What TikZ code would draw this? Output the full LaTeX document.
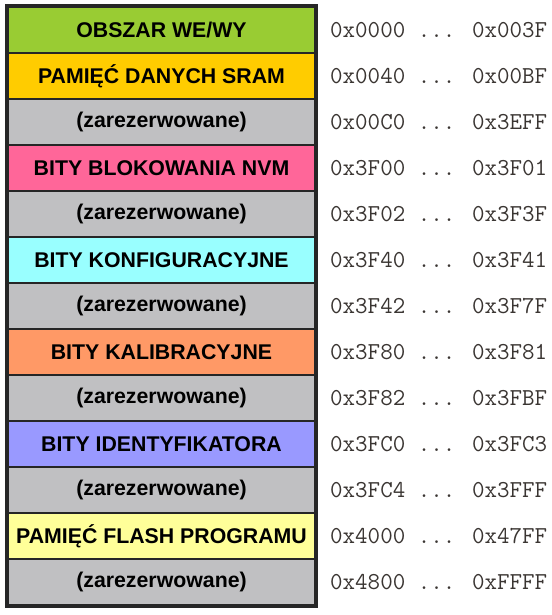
\documentclass[tikz,border=0pt]{standalone}
\usepackage{fontspec}
\setmainfont{Liberation Sans}
\newfontfamily\addrfont{Latin Modern Mono}
\usetikzlibrary{positioning}
\definecolor{ioarea}{HTML}{99CC33}
\definecolor{sramarea}{HTML}{FFCC00}
\definecolor{reserved}{HTML}{C0C0C2}
\definecolor{lockbits}{HTML}{FF6699}
\definecolor{fusebits}{HTML}{99FFFF}
\definecolor{calibbits}{HTML}{FF9966}
\definecolor{sigbits}{HTML}{9999FF}
\definecolor{flasharea}{HTML}{FFFF99}
\definecolor{addrtext}{HTML}{3A3532}
\definecolor{frameline}{HTML}{262626}

\begin{document}
\begin{tikzpicture}[
  x=1pt, y=1pt,
  region/.style={
    draw=frameline,
    line width=1.1pt,
    minimum width=307pt,
    minimum height=46pt,
    inner sep=0pt,
    font=\fontsize{21.3}{24}\selectfont\bfseries
  },
  freearea/.style={region, fill=reserved},
  addr/.style={
    anchor=west,
    inner sep=0pt,
    text=addrtext,
    font=\fontsize{24.3}{26}\selectfont\addrfont
  }
]
  \useasboundingbox (0,0) rectangle (551,-615);

  \node[region, fill=ioarea] (io) at (161.5,-30) {OBSZAR WE/WY};
  \node[region, fill=sramarea] (sram) at (161.5,-76) {PAMIĘĆ DANYCH SRAM};
  \node[freearea] (res1) at (161.5,-122) {(zarezerwowane)};
  \node[region, fill=lockbits] (lock) at (161.5,-168) {BITY BLOKOWANIA NVM};
  \node[freearea] (res2) at (161.5,-214) {(zarezerwowane)};
  \node[region, fill=fusebits] (fuse) at (161.5,-260) {BITY KONFIGURACYJNE};
  \node[freearea] (res3) at (161.5,-306) {(zarezerwowane)};
  \node[region, fill=calibbits] (calib) at (161.5,-352) {BITY KALIBRACYJNE};
  \node[freearea] (res4) at (161.5,-398) {(zarezerwowane)};
  \node[region, fill=sigbits] (sig) at (161.5,-444) {BITY IDENTYFIKATORA};
  \node[freearea] (res5) at (161.5,-490) {(zarezerwowane)};
  \node[region, fill=flasharea] (flash) at (161.5,-536) {PAMIĘĆ FLASH PROGRAMU};
  \node[freearea] (res6) at (161.5,-582) {(zarezerwowane)};

  \node[addr] (aio) at (330,-30) {0x0000 ... 0x003F};
  \node[addr] (asram) at (330,-76) {0x0040 ... 0x00BF};
  \node[addr] (ares1) at (330,-122) {0x00C0 ... 0x3EFF};
  \node[addr] (alock) at (330,-168) {0x3F00 ... 0x3F01};
  \node[addr] (ares2) at (330,-214) {0x3F02 ... 0x3F3F};
  \node[addr] (afuse) at (330,-260) {0x3F40 ... 0x3F41};
  \node[addr] (ares3) at (330,-306) {0x3F42 ... 0x3F7F};
  \node[addr] (acalib) at (330,-352) {0x3F80 ... 0x3F81};
  \node[addr] (ares4) at (330,-398) {0x3F82 ... 0x3FBF};
  \node[addr] (asig) at (330,-444) {0x3FC0 ... 0x3FC3};
  \node[addr] (ares5) at (330,-490) {0x3FC4 ... 0x3FFF};
  \node[addr] (aflash) at (330,-536) {0x4000 ... 0x47FF};
  \node[addr] (ares6) at (330,-582) {0x4800 ... 0xFFFF};

  % outer frame round the whole map
  \draw[frameline, line width=4pt] (io.north west) rectangle (res6.south east);
\end{tikzpicture}
\end{document}
